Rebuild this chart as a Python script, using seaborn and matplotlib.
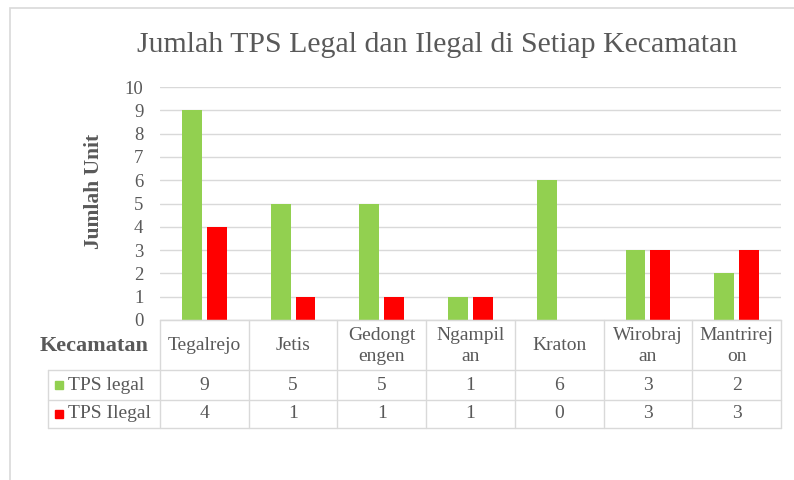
import matplotlib
matplotlib.use('Agg')
import matplotlib.pyplot as plt
import matplotlib.transforms as mtransforms
from matplotlib.lines import Line2D
from matplotlib.patches import Rectangle
import pandas as pd
import seaborn as sns

# data
kecamatan = ['Tegalrejo', 'Jetis', 'Gedongt\nengen', 'Ngampil\nan', 'Kraton', 'Wirobraj\nan', 'Mantrirej\non']
tps_legal = [9, 5, 5, 1, 6, 3, 2]
tps_ilegal = [4, 1, 1, 1, 0, 3, 3]
seri = ['TPS legal', 'TPS Ilegal']
warna = ['#92D050', '#FF0000']

df = pd.DataFrame({
    'kecamatan': kecamatan * 2,
    'jumlah': tps_legal + tps_ilegal,
    'jenis': [seri[0]] * len(kecamatan) + [seri[1]] * len(kecamatan),
})

sns.set_style('white')
plt.rcParams['font.family'] = ['Liberation Serif', 'DejaVu Serif']
abu = '#595959'
garis = '#D9D9D9'

W, H = 794, 480
fig = plt.figure(figsize=(W / 100, H / 100), dpi=100)


def px(x):
    return x / W


def py(y):
    return 1 - y / H


# chart border
fig.add_artist(Rectangle((px(10), -0.1), 1.2, py(8) + 0.1, transform=fig.transFigure,
                         fill=False, edgecolor=garis, linewidth=1.2))

ax = fig.add_axes([px(160), py(320), px(781) - px(160), py(87) - py(320)])
sns.barplot(data=df, x='kecamatan', y='jumlah', hue='jenis', palette=warna,
            width=0.56, gap=0.2, ax=ax, legend=False, saturation=1, linewidth=0)
ax.set_ylim(0, 10)
ax.set_xlim(-0.5, len(kecamatan) - 0.5)
ax.set_yticks(range(0, 11))
ax.yaxis.grid(True, color=garis, linewidth=1)
ax.set_axisbelow(True)
ax.tick_params(axis='y', length=0, pad=12, labelsize=13.5, labelcolor=abu)
ax.tick_params(axis='x', length=0, labelbottom=False)
ax.set_xlabel('')
ax.set_ylabel('Jumlah Unit', fontsize=15.5, fontweight='bold', color=abu)
ax.yaxis.set_label_coords(-0.09, 0.55)
for s in ['left', 'top', 'right']:
    ax.spines[s].set_visible(False)
ax.spines['bottom'].set_color(garis)

fig.text(px(437), py(45), 'Jumlah TPS Legal dan Ilegal di Setiap Kecamatan',
         ha='center', va='center', fontsize=21.5, color=abu)

# data table below the chart
tr = mtransforms.blended_transform_factory(ax.transData, fig.transFigure)
n = len(kecamatan)
rows_y = [320, 370, 400, 428]
for i in range(n + 1):
    fig.add_artist(Line2D([i - 0.5, i - 0.5], [py(320), py(428)], transform=tr,
                          color=garis, linewidth=1))
for k, yy in enumerate(rows_y):
    x0 = px(160) if k == 0 else px(48)
    fig.add_artist(Line2D([x0, px(781)], [py(yy), py(yy)], transform=fig.transFigure,
                          color=garis, linewidth=1))
fig.add_artist(Line2D([px(48), px(48)], [py(370), py(428)], transform=fig.transFigure,
                      color=garis, linewidth=1))

for i, nama in enumerate(kecamatan):
    fig.text(i, py(346), nama, transform=tr, ha='center', va='center',
             fontsize=14, color=abu, linespacing=1.3)
    fig.text(i, py(385), str(tps_legal[i]), transform=tr, ha='center', va='center',
             fontsize=14, color=abu)
    fig.text(i, py(414), str(tps_ilegal[i]), transform=tr, ha='center', va='center',
             fontsize=14, color=abu)

fig.text(px(148), py(346), 'Kecamatan', ha='right', va='center', fontsize=16,
         fontweight='bold', color=abu)
for k, (nm, c) in enumerate(zip(seri, warna)):
    yc = [385, 414][k]
    fig.add_artist(Rectangle((px(55), py(yc + 4)), px(8), py(yc - 4) - py(yc + 4),
                             transform=fig.transFigure, color=c))
    fig.text(px(68), py(yc), nm, ha='left', va='center', fontsize=14, color=abu)

fig.savefig('out.png', dpi=100)
